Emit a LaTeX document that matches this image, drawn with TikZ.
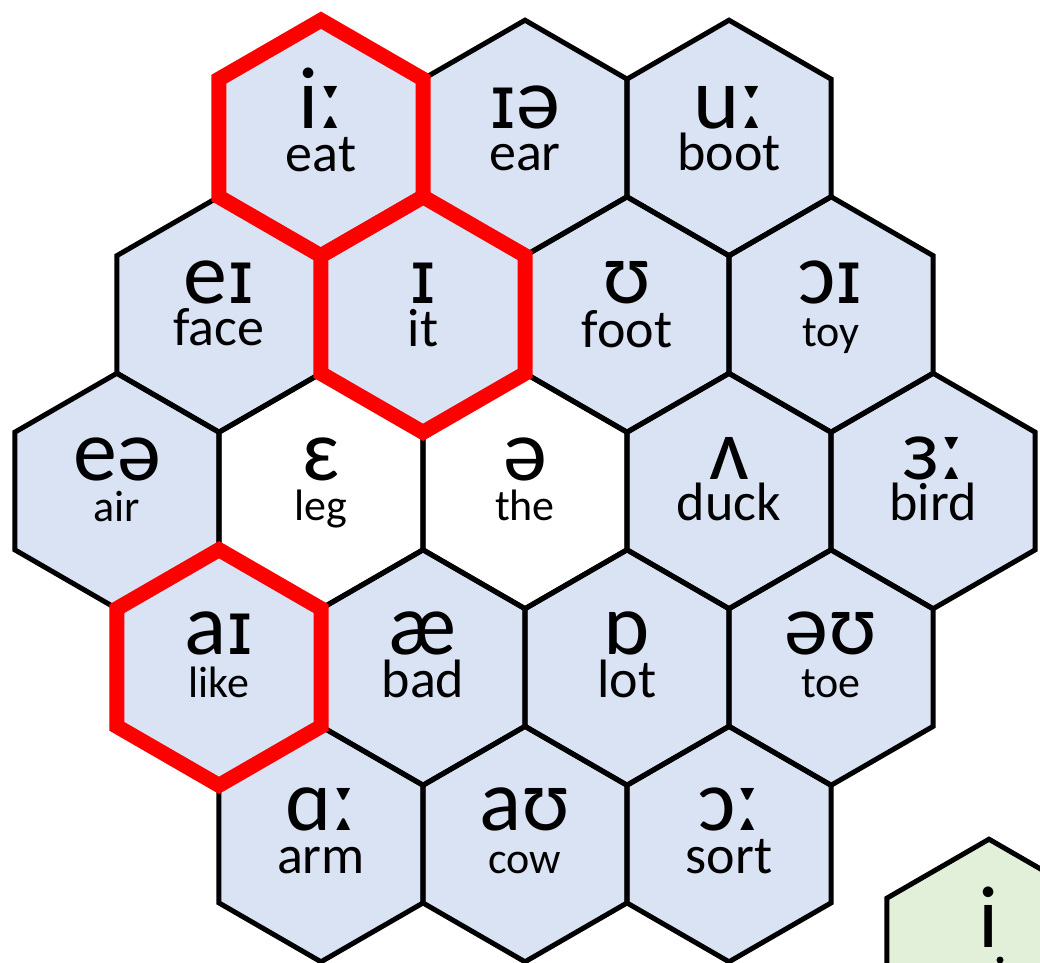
\documentclass[tikz,border=0pt]{standalone}
\usepackage{fontspec}
\setmainfont{Carlito}
\newfontfamily\dvsans{DejaVu Sans}
\newcommand\smallcapI{{\dvsans\fontsize{74}{74}\selectfont ɪ}}
\definecolor{hexblue}{HTML}{DAE3F3}
\definecolor{hexgreen}{HTML}{E2F0D9}
\newcommand\hexshape[2]{\path[#2] (#1) +(90:117.8) -- +(30:117.8) -- +(-30:117.8) -- +(-90:117.8) -- +(-150:117.8) -- +(150:117.8) -- cycle;}
\begin{document}
\begin{tikzpicture}[x=1pt,y=-1pt,line join=miter,
  bluefill/.style={fill=hexblue},
  whitefill/.style={fill=white},
  greenfill/.style={fill=hexgreen},
  hexline/.style={draw=black,line width=5pt},
  redline/.style={draw=red,line width=15pt},
  ipa/.style={anchor=base,inner sep=0pt,font=\fontsize{88}{88}\selectfont},
  wbig/.style={anchor=base,inner sep=0pt,font=\fontsize{54}{54}\selectfont},
  wsmall/.style={anchor=base,inner sep=0pt,font=\fontsize{44}{44}\selectfont}]
\useasboundingbox (0,0) rectangle (1040,962);
\clip (0,0) rectangle (1040,962);
% centres
\coordinate (eat) at (321,138);
\coordinate (ear) at (525,138);
\coordinate (boot) at (729,138);
\coordinate (face) at (219,314.5);
\coordinate (it) at (423,314.5);
\coordinate (foot) at (627,314.5);
\coordinate (toy) at (831,314.5);
\coordinate (air) at (117,491);
\coordinate (leg) at (321,491);
\coordinate (the) at (525,491);
\coordinate (duck) at (729,491);
\coordinate (bird) at (933,491);
\coordinate (like) at (219,667.5);
\coordinate (bad) at (423,667.5);
\coordinate (lot) at (627,667.5);
\coordinate (toe) at (831,667.5);
\coordinate (arm) at (321,844);
\coordinate (cow) at (525,844);
\coordinate (sort) at (729,844);
\coordinate (happy) at (989,957);
% fills
\foreach \n in {eat,ear,boot,face,it,foot,toy,air,duck,bird,like,bad,lot,toe,arm,cow,sort}{\hexshape{\n}{bluefill}}
\foreach \n in {leg,the}{\hexshape{\n}{whitefill}}
\hexshape{happy}{greenfill}
% outlines
\foreach \n in {eat,ear,boot,face,it,foot,toy,air,leg,the,duck,bird,like,bad,lot,toe,arm,cow,sort,happy}{\hexshape{\n}{hexline}}
\foreach \n in {eat,it,like}{\hexshape{\n}{redline}}
% row 1
\node[ipa] (eat-s) at (321,128) {iː};
\node[wbig] (eat-w) at (321,171) {eat};
\node[ipa] (ear-s) at (525,128) {\smallcapI ə};
\node[wbig] (ear-w) at (525,170) {ear};
\node[ipa] (boot-s) at (729,128) {uː};
\node[wbig] (boot-w) at (729,170) {boot};
% row 2
\node[ipa] (face-s) at (219,303) {e\smallcapI};
\node[wbig] (face-w) at (219,345) {face};
\node[ipa] (it-s) at (423,303) {\smallcapI};
\node[wbig] (it-w) at (423,346) {it};
\node[ipa] (foot-s) at (627,303) {ʊ};
\node[wbig] (foot-w) at (627,347) {foot};
\node[ipa] (toy-s) at (831,303) {ɔ\smallcapI};
\node[wsmall] (toy-w) at (831,346) {toy};
% row 3
\node[ipa] (air-s) at (117,480) {eə};
\node[wsmall] (air-w) at (117,521) {air};
\node[ipa] (leg-s) at (321,480) {ɛ};
\node[wsmall] (leg-w) at (321,520) {leg};
\node[ipa] (the-s) at (525,480) {ə};
\node[wsmall] (the-w) at (525,520) {the};
\node[ipa] (duck-s) at (729,479) {ʌ};
\node[wbig] (duck-w) at (729,520) {duck};
\node[ipa] (bird-s) at (933,479) {ɜː};
\node[wbig] (bird-w) at (933,520) {bird};
% row 4
\node[ipa] (like-s) at (219,654) {a\smallcapI};
\node[wsmall] (like-w) at (219,697) {like};
\node[ipa] (bad-s) at (423,654) {æ};
\node[wbig] (bad-w) at (423,697) {bad};
\node[ipa] (lot-s) at (627,654) {ɒ};
\node[wbig] (lot-w) at (627,697) {lot};
\node[ipa] (toe-s) at (831,654) {əʊ};
\node[wsmall] (toe-w) at (831,697) {toe};
% row 5
\node[ipa] (arm-s) at (321,830) {ɑː};
\node[wbig] (arm-w) at (321,873) {arm};
\node[ipa] (cow-s) at (525,830) {aʊ};
\node[wsmall] (cow-w) at (525,873) {cow};
\node[ipa] (sort-s) at (729,830) {ɔː};
\node[wbig] (sort-w) at (729,873) {sort};
% partial hexagon
\node[ipa] (happy-s) at (989,947) {i};
\fill (1000,960) circle (3.5);
\end{tikzpicture}
\end{document}
